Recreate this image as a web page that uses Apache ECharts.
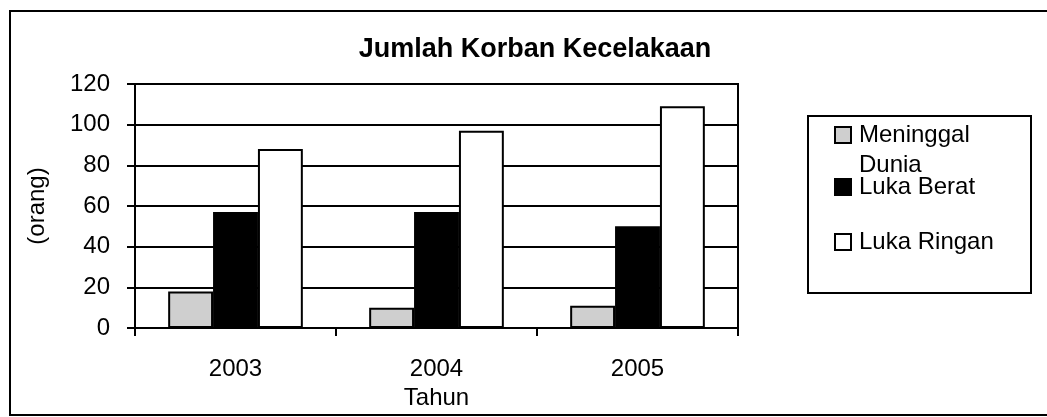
<!DOCTYPE html>
<html>
<head>
<meta charset="utf-8">
<script src="https://cdn.jsdelivr.net/npm/echarts@6/dist/echarts.min.js"></script>
<style>
html,body{margin:0;padding:0;background:#fff;}
#chart{width:1047px;height:417px;}
</style>
</head>
<body>
<div id="chart"></div>
<script>
var categories = ['2003', '2004', '2005'];
var seriesNames = ['Meninggal Dunia', 'Luka Berat', 'Luka Ringan'];
var meninggalDunia = [18, 10, 11];
var lukaBerat = [57, 57, 50];
var lukaRingan = [88, 97, 109];
var yTicks = [0, 20, 40, 60, 80, 100, 120];

var FONT = "'Liberation Sans', Arial, sans-serif";
var chart = echarts.init(document.getElementById('chart'), null, {renderer: 'canvas'});

function legendFor(name, top, label) {
  return {
    data: [{name: name, icon: 'rect'}],
    orient: 'vertical',
    left: 834,
    top: top,
    padding: 0,
    itemWidth: 16,
    itemHeight: 16,
    itemGap: 0,
    selectedMode: false,
    formatter: function () { return label; },
    textStyle: {fontFamily: FONT, fontSize: 24, color: '#000', lineHeight: 24, padding: [0, 0, 0, 3]}
  };
}

chart.setOption({
  animation: false,
  backgroundColor: '#fff',
  title: {
    text: 'Jumlah Korban Kecelakaan',
    left: 530,
    textAlign: 'center',
    top: 31,
    textStyle: {fontFamily: FONT, fontSize: 27, fontWeight: 'bold', color: '#000'}
  },
  legend: [
    legendFor(seriesNames[0], 123, 'Meninggal'),
    legendFor(seriesNames[1], 175, 'Luka Berat'),
    legendFor(seriesNames[2], 230, 'Luka Ringan')
  ],
  graphic: [
    {type: 'rect', shape: {x: 10, y: 11, width: 1045, height: 404}, style: {fill: 'none', stroke: '#000', lineWidth: 2}, silent: true, z: -1},
    {type: 'rect', shape: {x: 808, y: 116, width: 223, height: 177}, style: {fill: 'none', stroke: '#000', lineWidth: 2}, silent: true},
    {type: 'text', left: 859, top: 153, style: {text: 'Dunia', font: "24px 'Liberation Sans', Arial, sans-serif", fill: '#000'}, silent: true}
  ],
  grid: {
    left: 135, right: 309, top: 84, bottom: 89,
    show: true, borderColor: '#000', borderWidth: 2, backgroundColor: 'transparent'
  },
  xAxis: {
    type: 'category',
    data: categories,
    name: 'Tahun',
    nameLocation: 'middle',
    nameGap: 50,
    nameTextStyle: {fontFamily: FONT, fontSize: 24, color: '#000'},
    axisLine: {lineStyle: {color: '#000', width: 2}},
    axisTick: {show: true, length: 8, lineStyle: {color: '#000', width: 2}},
    axisLabel: {fontFamily: FONT, fontSize: 24, color: '#000', margin: 29}
  },
  yAxis: {
    type: 'value',
    min: 0, max: 120, interval: 20,
    name: '(orang)',
    nameLocation: 'middle',
    nameGap: 86,
    nameRotate: 90,
    nameTextStyle: {fontFamily: FONT, fontSize: 24, color: '#000'},
    axisLine: {show: true, lineStyle: {color: '#000', width: 2}},
    axisTick: {show: true, length: 8, lineStyle: {color: '#000', width: 2}},
    splitLine: {show: true, lineStyle: {color: '#000', width: 2}},
    axisLabel: {
      fontFamily: FONT, fontSize: 24, color: '#000', margin: 25,
      formatter: function (v) { return yTicks.indexOf(v) >= 0 ? String(v) : ''; }
    }
  },
  series: [
    {name: seriesNames[0], type: 'bar', data: meninggalDunia, barGap: '0%', barCategoryGap: '33%',
     itemStyle: {color: '#cfcfcf', borderColor: '#000', borderWidth: 2}},
    {name: seriesNames[1], type: 'bar', data: lukaBerat, barGap: '0%', barCategoryGap: '33%',
     itemStyle: {color: '#000', borderColor: '#000', borderWidth: 2}},
    {name: seriesNames[2], type: 'bar', data: lukaRingan, barGap: '0%', barCategoryGap: '33%',
     itemStyle: {color: '#fff', borderColor: '#000', borderWidth: 2}}
  ]
});
</script>
</body>
</html>
